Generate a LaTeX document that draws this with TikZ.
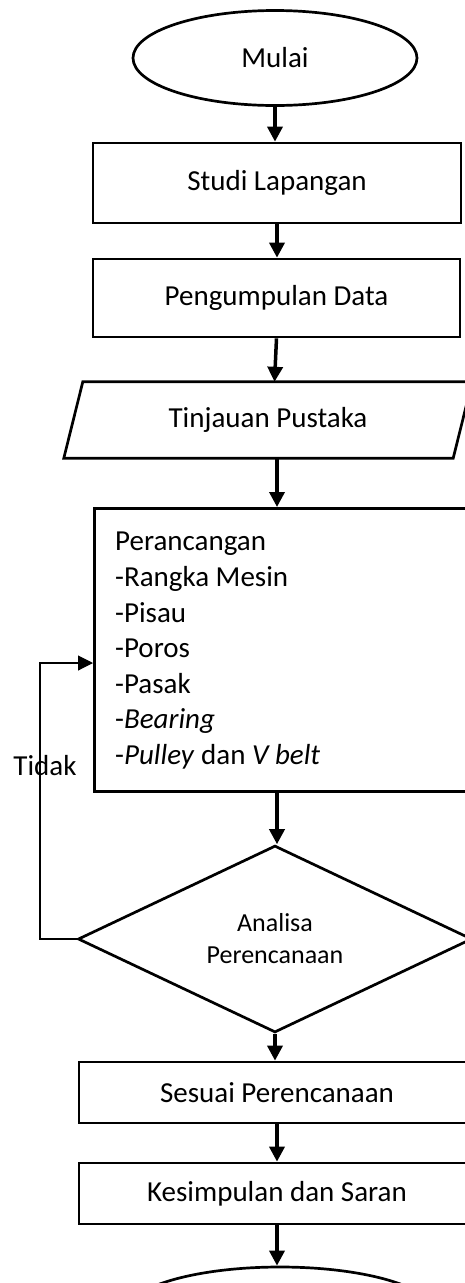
\documentclass[tikz,border=0pt]{standalone}
\usepackage{fontspec}
\setmainfont{Carlito}
\usetikzlibrary{shapes.geometric,arrows.meta,calc}
\begin{document}
\begin{tikzpicture}[x=1pt,y=-1pt,
  every node/.style={font=\fontsize{29}{35.6}\selectfont, inner sep=0pt, text=black},
  boxnode/.style={draw, line width=2.7pt, rectangle},
  arr/.style={line width=3.5pt, -{Triangle[length=15pt,width=15pt]}},
  thinarr/.style={line width=1.1pt, -{Triangle[length=15pt,width=15pt]}},
  ]
\useasboundingbox (0,0) rectangle (465,1283);
\fill[white] (0,0) rectangle (465,1283);
\clip (0,0) rectangle (465,1283);

% nodes
\node[draw, ellipse, line width=2.7pt, minimum width=284pt, minimum height=95pt] (start) at (275,58) {Mulai};
\node[boxnode, minimum width=368pt, minimum height=80pt] (studi) at (277,183) {Studi Lapangan};
\node[boxnode, minimum width=367pt, minimum height=78pt] (data) at (276.5,298) {Pengumpulan Data};
\node[minimum width=389pt, minimum height=76pt] (tinjau) at (268,420) {Tinjauan Pustaka};
\draw[line width=2.7pt, line join=miter]
  ($(tinjau.south west)+(-9.5,0)$) -- ($(tinjau.north west)+(9.5,0)$) --
  ($(tinjau.north east)+(9.5,0)$) -- ($(tinjau.south east)+(-9.5,0)$) -- cycle;
\node[boxnode, minimum width=390pt, minimum height=283pt, anchor=north west] (design) at (93,507) {};
\node[align=left, anchor=north west] (designtext) at (115,532) {Perancangan\\
-Rangka Mesin\\
-Pisau\\
-Poros\\
-Pasak\\
-\textit{Bearing}\\
-\textit{Pulley} dan \textit{V belt}};
\node[draw, diamond, line width=2.7pt, minimum width=394pt, minimum height=178pt,
      align=center, font=\fontsize{26}{32}\selectfont] (dec) at (275,939) {Analisa\\Perencanaan};
\node[boxnode, minimum width=396pt, minimum height=61pt] (sesuai) at (277,1092.5) {Sesuai Perencanaan};
\node[boxnode, minimum width=396pt, minimum height=61pt] (simpul) at (277,1193.5) {Kesimpulan dan Saran};
\node[draw, ellipse, line width=2.7pt, minimum width=310pt, minimum height=92pt] (finish) at (280,1313) {};
\node[anchor=base] (tidak) at (45,775) {Tidak};
\coordinate (fbx) at (40,663);

% connectors
\draw[arr] (start.south) -- (start.south |- studi.north);
\draw[arr] (studi.south) -- (studi.south |- data.north);
\draw[arr] (data.south) -- ($(data.south |- tinjau.north)+(-2,0)$);
\draw[arr] (tinjau.south -| studi.south) -- (studi.south |- design.north);
\draw[arr] (design.south -| studi.south) -- (studi.south |- dec.north);
\draw[arr] (dec.south) -- (dec.south |- sesuai.north);
\draw[arr] (sesuai.south) -- (simpul.north);
\draw[arr] (simpul.south) -- (simpul.south |- finish.north);
\draw[thinarr] (dec.west) -| (fbx) -- (fbx -| design.west);
\end{tikzpicture}
\end{document}
